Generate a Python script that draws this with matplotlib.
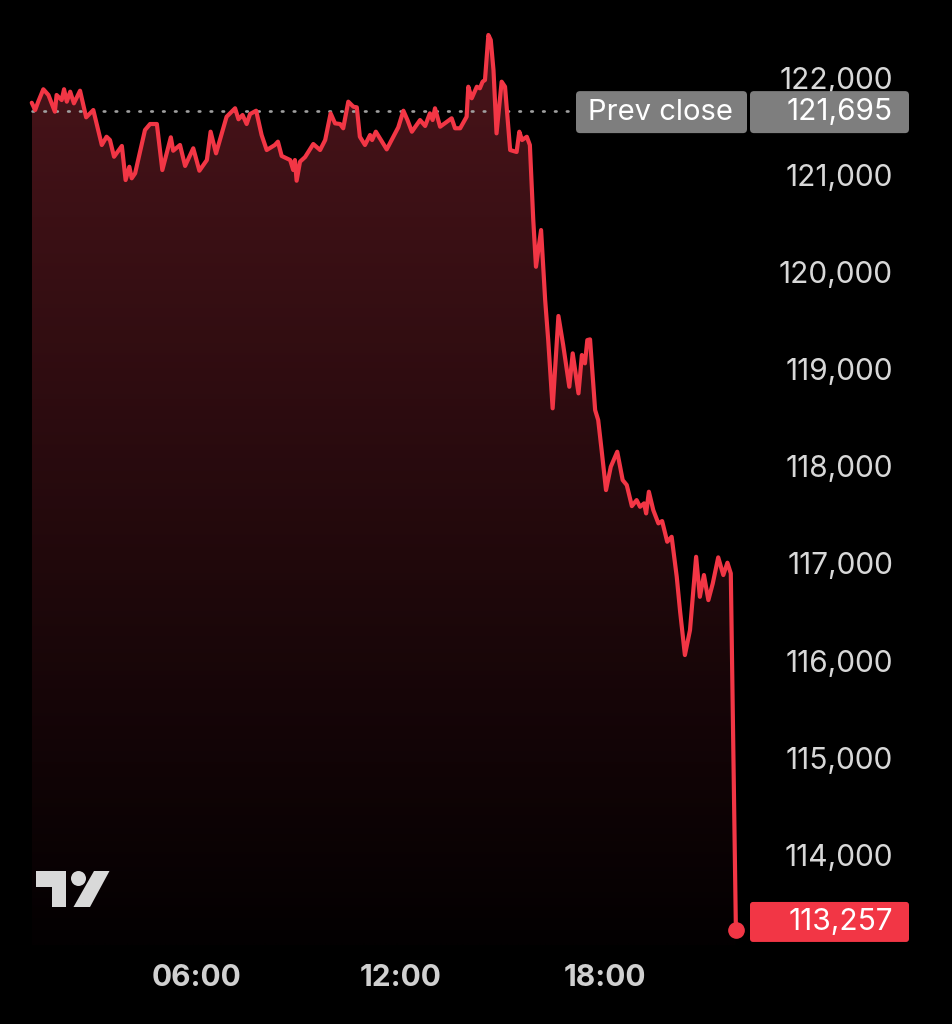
import numpy as np
import matplotlib
matplotlib.use('Agg')
import matplotlib.pyplot as plt
from matplotlib.patches import FancyBboxPatch, Polygon, Circle
from matplotlib import transforms

# ---------------- data ----------------
times = [1.14, 1.24, 1.33, 1.48, 1.63, 1.82, 1.87, 2.02, 2.09, 2.17,
         2.27, 2.38, 2.56, 2.74, 2.95, 3.20, 3.34, 3.44, 3.56, 3.79,
         3.90, 4.01, 4.08, 4.18, 4.47, 4.62, 4.82, 4.98, 5.23, 5.30,
         5.50, 5.65, 5.89, 6.07, 6.29, 6.40, 6.56, 6.87, 7.12, 7.22,
         7.34, 7.46, 7.56, 7.74, 7.90, 8.05, 8.29, 8.38, 8.49, 8.74,
         8.83, 8.88, 8.93, 9.03, 9.18, 9.42, 9.62, 9.77, 9.93, 10.06,
         10.21, 10.30, 10.45, 10.60, 10.70, 10.79, 10.94, 11.09, 11.15, 11.26,
         11.58, 11.92, 12.07, 12.19, 12.32, 12.56, 12.71, 12.85, 12.93, 13.00,
         13.15, 13.49, 13.59, 13.74, 13.93, 13.98, 14.08, 14.23, 14.32, 14.40,
         14.47, 14.57, 14.64, 14.72, 14.81, 14.96, 15.06, 15.21, 15.40, 15.48,
         15.56, 15.70, 15.79, 15.89, 15.97, 16.12, 16.24, 16.33, 16.46, 16.63,
         16.77, 16.95, 17.05, 17.22, 17.32, 17.41, 17.48, 17.56, 17.71, 17.80,
         17.90, 18.03, 18.17, 18.36, 18.52, 18.64, 18.79, 18.93, 19.03, 19.15,
         19.21, 19.29, 19.42, 19.57, 19.68, 19.83, 19.96, 20.11, 20.21, 20.35,
         20.50, 20.68, 20.79, 20.91, 21.04, 21.17, 21.33, 21.48, 21.60, 21.70,
         21.85]

prices = [121776, 121701, 121787, 121915, 121856, 121684, 121856, 121804, 121915, 121787,
          121890, 121770, 121900, 121626, 121701, 121341, 121426, 121392, 121220, 121331,
          120980, 121117, 120998, 121049, 121495, 121557, 121557, 121083, 121420, 121282,
          121341, 121125, 121307, 121076, 121186, 121478, 121255, 121632, 121719, 121606,
          121650, 121557, 121660, 121694, 121444, 121289, 121341, 121375, 121228, 121186,
          121083, 121186, 120973, 121169, 121217, 121351, 121289, 121392, 121667, 121564,
          121557, 121513, 121787, 121735, 121729, 121426, 121341, 121444, 121392, 121478,
          121296, 121523, 121694, 121598, 121478, 121598, 121537, 121667, 121598, 121719,
          121529, 121616, 121513, 121513, 121632, 121941, 121822, 121941, 121925, 121993,
          122010, 122474, 122422, 122113, 121461, 121993, 121941, 121289, 121269, 121478,
          121392, 121426, 121341, 120568, 120087, 120465, 119744, 119332, 118629, 119580,
          119281, 118851, 119195, 118783, 119178, 119092, 119332, 119339, 118611, 118508,
          118199, 117787, 118027, 118182, 117890, 117839, 117622, 117684, 117615, 117650,
          117547, 117770, 117581, 117444, 117468, 117255, 117306, 116894, 116534, 116088,
          116345, 117100, 116688, 116912, 116654, 116826, 117094, 116912, 117039, 116929,
          113257]

prev_close = 121695
last_price = 113257
y_ticks = [114000, 115000, 116000, 117000, 118000, 119000, 120000, 121000, 122000]
y_tick_labels = ["114,000", "115,000", "116,000", "117,000", "118,000",
                 "119,000", "120,000", "121,000", "122,000"]
x_ticks = [6, 12, 18]
x_tick_labels = ["06:00", "12:00", "18:00"]
prev_label = "Prev close"
prev_value_label = "121,695"
last_value_label = "113,257"

# ---------------- style ----------------
RED = '#F23645'
FONT = ['Inter', 'DejaVu Sans']
W, H = 953, 1024
PX_X = 34.0        # pixels per hour
X0 = -7.0          # pixel of 00:00
PX_Y = 0.0971      # pixels per price unit
Y_REF_PX = 81.0    # pixel row of 122000

fig = plt.figure(figsize=(W / 100, H / 100), dpi=100, facecolor='black')
ax = fig.add_axes([0, 0, 1, 1])
ax.set_facecolor('black')
ax.set_xlim((0 - X0) / PX_X, (W - X0) / PX_X)
ax.set_ylim(122000 - (H - Y_REF_PX) / PX_Y, 122000 + Y_REF_PX / PX_Y)
ax.axis('off')

ov = fig.add_axes([0, 0, 1, 1], zorder=5)
ov.set_xlim(0, W)
ov.set_ylim(H, 0)
ov.axis('off')
ov.patch.set_alpha(0)

def py(v):
    return H - ax.transData.transform((0, v))[1]

def px_to_t(p):
    return (p - X0) / PX_X

# ---- gradient fill ----
v_bottom = 122000 - (945 - Y_REF_PX) / PX_Y
poly = ax.fill_between(times, prices, v_bottom, facecolor='none', edgecolor='none')
top_c = np.array([74, 20, 26]) / 255.0
bot_c = np.array([3, 0, 1]) / 255.0
n = 256
frac = np.linspace(0, 1, n)[:, None]
grad = top_c[None, :] * (1 - frac) + bot_c[None, :] * frac
grad = grad[:, None, :].repeat(2, axis=1)
im = ax.imshow(grad, extent=[times[0], times[-1], v_bottom, max(prices)],
               aspect='auto', origin='upper', zorder=1, interpolation='bilinear')
im.set_clip_path(poly.get_paths()[0], transform=ax.transData)

# ---- prev close dotted line ----
ax.plot([times[0], px_to_t(572)], [prev_close, prev_close], color='#a0a0a0',
        lw=1.9, linestyle=(0, (0.6, 3.9)), dash_capstyle='round', zorder=2)

# ---- price line ----
ax.plot(times, prices, color=RED, lw=3.0, solid_joinstyle='round',
        solid_capstyle='round', zorder=3)
ax.plot([times[-1]], [prices[-1]], 'o', ms=11, color=RED, zorder=4)

# ---- y labels ----
blend = transforms.blended_transform_factory(ov.transData, ax.transData)
for v, lab in zip(y_ticks, y_tick_labels):
    ax.text(893, v, lab, transform=blend, ha='right', va='center',
            fontsize=21.5, color='#d8d8d8', family=FONT, zorder=6)

# ---- x labels ----
for t, lab in zip(x_ticks, x_tick_labels):
    ov.text(X0 + t * PX_X, 978, lab, ha='center', va='center',
            fontsize=21.5, color='#d0d0d0', family=FONT, fontweight='bold')

# ---- prev close boxes ----
cy = py(prev_close) + 1.5
ov.add_patch(FancyBboxPatch((576, cy - 21), 171, 42,
                            boxstyle='round,pad=0,rounding_size=4',
                            facecolor='#7e7e7e', edgecolor='none', zorder=7))
ov.add_patch(FancyBboxPatch((750, cy - 21), 159, 42,
                            boxstyle='round,pad=0,rounding_size=4',
                            facecolor='#7e7e7e', edgecolor='none', zorder=7))
ov.text(660, cy, prev_label, ha='center', va='center', fontsize=21,
        color='white', family=FONT, zorder=8)
ov.text(893, cy, prev_value_label, ha='right', va='center', fontsize=21.5,
        color='white', family=FONT, zorder=8)

# ---- last price box ----
ly = py(last_price) - 8
ov.add_patch(FancyBboxPatch((750, ly - 20), 159, 40,
                            boxstyle='round,pad=0,rounding_size=3',
                            facecolor=RED, edgecolor='none', zorder=7))
ov.text(893, ly, last_value_label, ha='right', va='center', fontsize=21.5,
        color='white', family=FONT, zorder=8)

# ---- TradingView logo ----
LOGO = '#d9d9d9'
ov.add_patch(Polygon([(36, 871), (66, 871), (66, 907), (52, 907), (52, 887), (36, 887)],
                     closed=True, facecolor=LOGO, edgecolor='none'))
ov.add_patch(Circle((78.5, 878.5), 7.5, facecolor=LOGO, edgecolor='none'))
ov.add_patch(Polygon([(94, 871), (109.5, 871), (90, 907), (73.5, 907)],
                     closed=True, facecolor=LOGO, edgecolor='none'))

fig.savefig('out.png', dpi=100, facecolor='black')
